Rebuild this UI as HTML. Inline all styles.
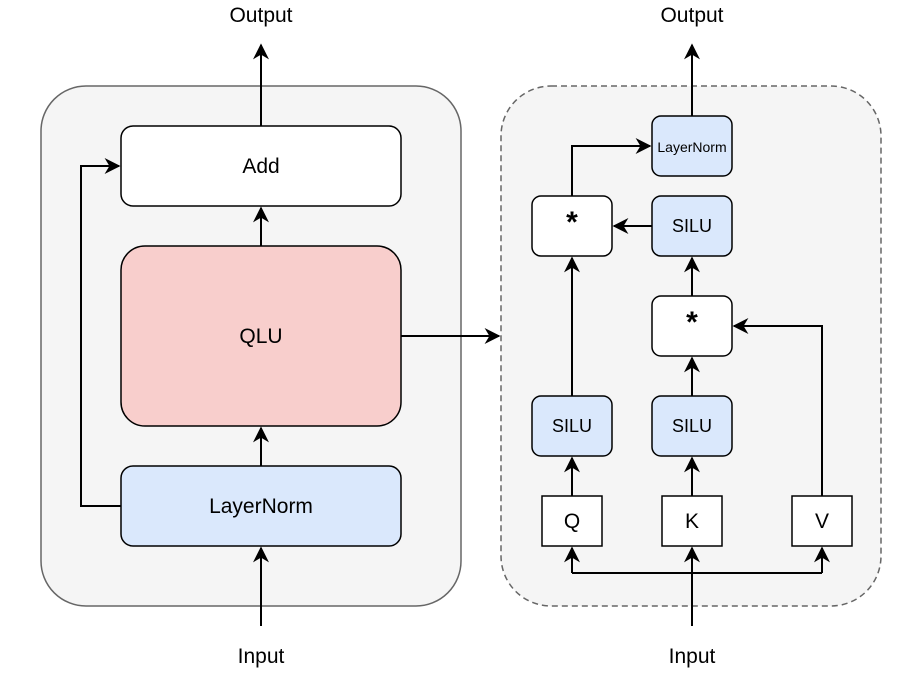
<!DOCTYPE html>
<html><head><style>body{margin:0;background:#fff}</style></head><body>
<svg width="924" height="669" xmlns="http://www.w3.org/2000/svg" font-family="Liberation Sans, sans-serif">
<defs>
<marker id="b" viewBox="0 0 10 10" refX="9" refY="5" markerWidth="16" markerHeight="16" orient="auto" markerUnits="userSpaceOnUse"><path d="M0,0 L10,5 L0,10 L3,5 z" fill="#000"/></marker></defs>
<rect x="41" y="86" width="420" height="520" rx="45" fill="#f5f5f5" stroke="#666" stroke-width="1.5"/>
<rect x="501" y="86" width="380" height="520" rx="50" fill="#f5f5f5" stroke="#666" stroke-width="1.5" stroke-dasharray="6,4"/>
<g stroke="#000" stroke-width="2" fill="none">
<path d="M261 126 V45" marker-end="url(#b)"/>
<path d="M261 246 V208" marker-end="url(#b)"/>
<path d="M261 466 V428" marker-end="url(#b)"/>
<path d="M261 626 V548" marker-end="url(#b)"/>
<path d="M121 506 H81 V166 H119" marker-end="url(#b)"/>
<path d="M401 336 H499" marker-end="url(#b)"/>
<path d="M692 116 V45" marker-end="url(#b)"/>
<path d="M572 196 V146 H650" marker-end="url(#b)"/>
<path d="M652 226 H614" marker-end="url(#b)"/>
<path d="M692 296 V258" marker-end="url(#b)"/>
<path d="M692 396 V358" marker-end="url(#b)"/>
<path d="M572 396 V258" marker-end="url(#b)"/>
<path d="M822 496 V326 H734" marker-end="url(#b)"/>
<path d="M572 496 V458" marker-end="url(#b)"/>
<path d="M692 496 V458" marker-end="url(#b)"/>
<path d="M692 626 V548" marker-end="url(#b)"/>
<path d="M572 573 H822"/>
<path d="M572 573 V548" marker-end="url(#b)"/>
<path d="M822 573 V548" marker-end="url(#b)"/>
</g>
<g stroke="#000" stroke-width="1.5">
<rect x="121" y="126" width="280" height="80" rx="12" fill="#fff"/>
<rect x="121" y="246" width="280" height="180" rx="24" fill="#f8cecc"/>
<rect x="121" y="466" width="280" height="80" rx="12" fill="#dae8fc"/>
<rect x="652" y="116" width="80" height="60" rx="9" fill="#dae8fc"/>
<rect x="532" y="196" width="80" height="60" rx="9" fill="#fff"/>
<rect x="652" y="196" width="80" height="60" rx="9" fill="#dae8fc"/>
<rect x="652" y="296" width="80" height="60" rx="9" fill="#fff"/>
<rect x="532" y="396" width="80" height="60" rx="9" fill="#dae8fc"/>
<rect x="652" y="396" width="80" height="60" rx="9" fill="#dae8fc"/>
<rect x="542" y="496" width="60" height="50" fill="#fff"/>
<rect x="662" y="496" width="60" height="50" fill="#fff"/>
<rect x="792" y="496" width="60" height="50" fill="#fff"/>
</g>
<g text-anchor="middle" fill="#000" font-size="21">
<text x="261" y="22">Output</text><text x="692" y="22">Output</text>
<text x="261" y="663">Input</text><text x="692" y="663">Input</text>
<text x="261" y="173">Add</text><text x="261" y="343">QLU</text><text x="261" y="513">LayerNorm</text>
<text x="572" y="528">Q</text><text x="692" y="528">K</text><text x="822" y="528">V</text>
<text x="692" y="152" font-size="14">LayerNorm</text>
<g font-size="18"><text x="692" y="232">SILU</text><text x="572" y="432">SILU</text><text x="692" y="432">SILU</text></g>
<g font-size="30" font-weight="bold"><text x="572" y="232">*</text><text x="692" y="332">*</text></g>
</g>
</svg></body></html>
